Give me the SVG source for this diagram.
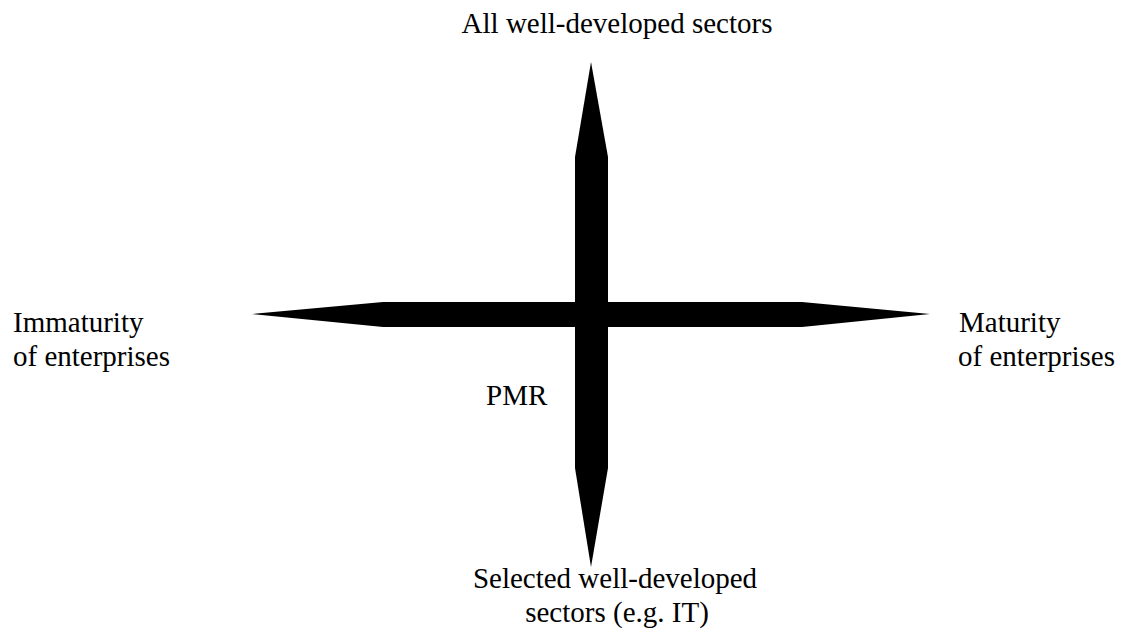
<svg xmlns="http://www.w3.org/2000/svg" width="1122" height="636" viewBox="0 0 1122 636">
<style>
text{font-family:"Liberation Serif","Times New Roman",serif;font-size:29px;fill:#000}
.m{text-anchor:middle}
</style>
<rect width="1122" height="636" fill="#fff"/>
<g id="connectors">
<polygon id="vertical-axis" points="591,62 608,157 608,468 591,567 575,468 575,157" fill="#000"/>
<polygon id="horizontal-axis" points="252,314 383,302 802,302 930,314 802,327 383,327" fill="#000"/>
</g>
<g id="top"><text class="m" x="617" y="33">All well-developed sectors</text></g>
<g id="left"><text x="13" y="332">Immaturity</text><text x="13" y="366">of enterprises</text></g>
<g id="right"><text x="959" y="332">Maturity</text><text x="958" y="366">of enterprises</text></g>
<g id="bottom"><text class="m" x="615" y="588">Selected well-developed</text><text class="m" x="617" y="622">sectors (e.g. IT)</text></g>
<g id="pmr"><text x="486" y="405">PMR</text></g>
</svg>
